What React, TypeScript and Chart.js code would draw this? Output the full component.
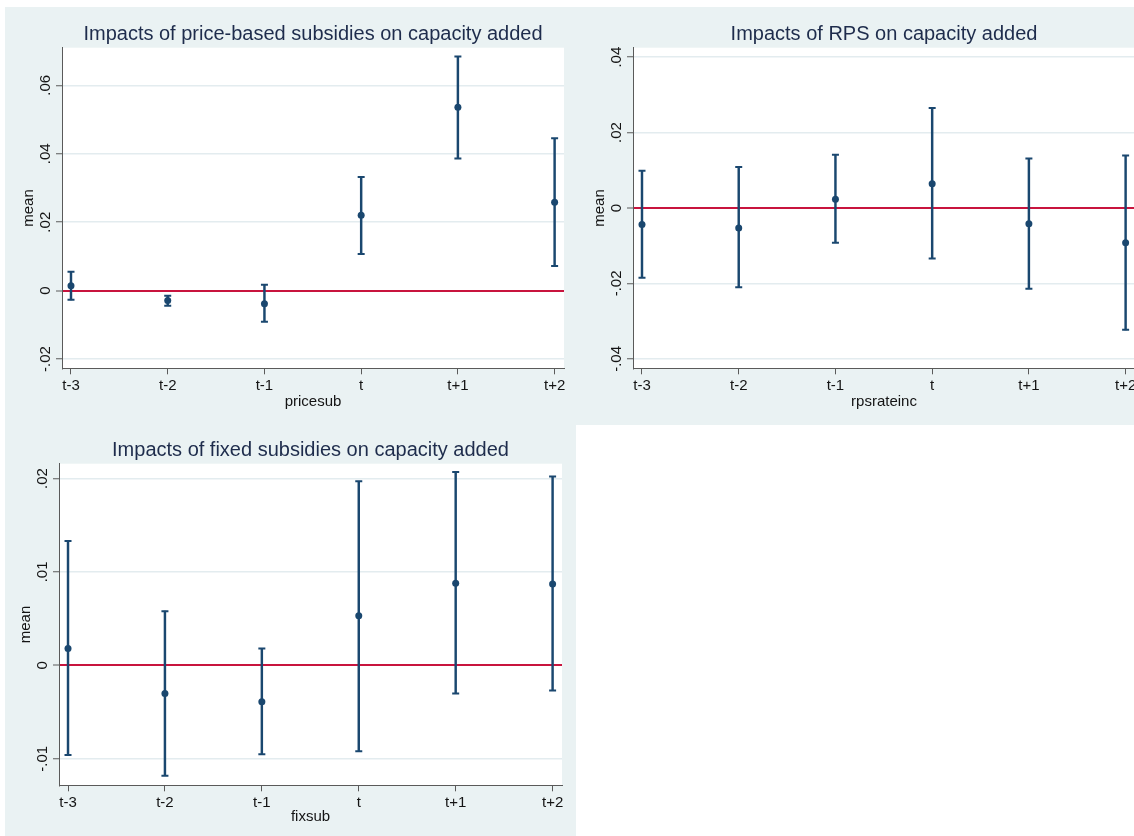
import React, { useEffect, useRef } from 'react';
import { Chart, registerables } from 'chart.js';

Chart.register(...registerables);

// Event-time categories shared by all three panels
const categories = ['t-3', 't-2', 't-1', 't', 't+1', 't+2'];

// Price-based subsidies: point estimates and confidence bounds
const priceMean = [0.0014, -0.0029, -0.0038, 0.022, 0.0536, 0.0258];
const priceLow = [-0.0027, -0.0044, -0.0091, 0.0107, 0.0386, 0.0072];
const priceHigh = [0.0055, -0.0015, 0.0017, 0.0332, 0.0684, 0.0445];

// RPS rate increase
const rpsMean = [-0.0044, -0.0053, 0.0023, 0.0064, -0.0042, -0.0092];
const rpsLow = [-0.0185, -0.021, -0.0092, -0.0134, -0.0214, -0.0323];
const rpsHigh = [0.0099, 0.0109, 0.0141, 0.0265, 0.0131, 0.0139];

// Fixed subsidies
const fixMean = [0.0018, -0.003, -0.0039, 0.0053, 0.0088, 0.0087];
const fixLow = [-0.0096, -0.0118, -0.0095, -0.0092, -0.003, -0.0027];
const fixHigh = [0.0133, 0.0058, 0.0018, 0.0197, 0.0207, 0.0202];

// Y-axis tick values and their labels
const priceYTicks = [-0.02, 0, 0.02, 0.04, 0.06];
const priceYLabels = ['-.02', '0', '.02', '.04', '.06'];
const rpsYTicks = [-0.04, -0.02, 0, 0.02, 0.04];
const rpsYLabels = ['-.04', '-.02', '0', '.02', '.04'];
const fixYTicks = [-0.01, 0, 0.01, 0.02];
const fixYLabels = ['-.01', '0', '.01', '.02'];

const NAVY = '#1a476f';
const ZERO_RED = '#c8143e';
const GRID = '#e3ecef';
const AXIS = '#5a5a5a';
const TEXT = '#141414';
const TITLE = '#1e2c4c';
const PANEL_BG = '#eaf2f3';
const FONT = '"Liberation Sans", Arial, Helvetica, sans-serif';

type PanelSpec = {
  title: string;
  xTitle: string;
  mean: number[];
  low: number[];
  high: number[];
  yTicks: number[];
  yLabels: string[];
  yMin: number;
  yMax: number;
  left: number;
  top: number;
  width: number;
  height: number;
  bgHeight: number;
  axisLeft: number;
  axisRight: number;
};

const plotBackground = {
  id: 'plotBackground',
  beforeDraw(chart: any) {
    const { ctx, chartArea: a } = chart;
    ctx.save();
    ctx.fillStyle = '#ffffff';
    ctx.fillRect(a.left, a.top, a.right - a.left, a.bottom - a.top);
    ctx.restore();
  },
};

// Vertical (rotated) y tick labels, placed at the scale's tick pixels
const rotatedYLabels = {
  id: 'rotatedYLabels',
  afterDraw(chart: any, _args: any, opts: any) {
    const scale = chart.scales.y;
    const { ctx } = chart;
    const x = chart.chartArea.left - 12.5;
    ctx.save();
    ctx.font = `15px ${FONT}`;
    ctx.fillStyle = TEXT;
    ctx.textAlign = 'center';
    ctx.textBaseline = 'alphabetic';
    opts.values.forEach((v: number, i: number) => {
      const y = scale.getPixelForValue(v);
      ctx.save();
      ctx.translate(x, y);
      ctx.rotate(-Math.PI / 2);
      ctx.fillText(opts.labels[i], 0, 0);
      ctx.restore();
    });
    ctx.restore();
  },
};

const isZero = (v: number) => Math.abs(v) < 1e-12;

function Panel({ spec }: { spec: PanelSpec }) {
  const ref = useRef<HTMLCanvasElement>(null);

  useEffect(() => {
    if (!ref.current) return;
    const pts = (vals: number[]) => vals.map((y, i) => ({ x: i, y }));
    const chart = new Chart(ref.current, {
      type: 'bar',
      data: {
        datasets: [
          {
            type: 'line',
            data: pts(spec.mean),
            showLine: false,
            pointStyle: 'circle',
            pointRadius: 3.5,
            pointBackgroundColor: NAVY,
            pointBorderColor: NAVY,
            pointBorderWidth: 0,
          },
          {
            type: 'line',
            data: pts(spec.high),
            showLine: false,
            pointStyle: 'line',
            pointRadius: 3.5,
            pointBorderColor: NAVY,
            pointBorderWidth: 2,
          },
          {
            type: 'line',
            data: pts(spec.low),
            showLine: false,
            pointStyle: 'line',
            pointRadius: 3.5,
            pointBorderColor: NAVY,
            pointBorderWidth: 2,
          },
          {
            type: 'bar',
            data: spec.low.map((l, i) => ({ x: i, y: [l, spec.high[i]] })),
            barThickness: 1.8,
            backgroundColor: NAVY,
            borderWidth: 0,
          },
        ] as any,
      },
      options: {
        responsive: false,
        animation: false,
        events: [],
        layout: {
          padding: { left: 0, top: 0, bottom: 0, right: spec.width - spec.axisRight },
        },
        plugins: {
          legend: { display: false },
          tooltip: { enabled: false },
          title: {
            display: true,
            text: spec.title,
            fullSize: false,
            color: TITLE,
            font: { family: FONT, size: 20, weight: 'normal' },
            padding: { top: 15, bottom: 1.7 },
          },
          rotatedYLabels: { values: spec.yTicks, labels: spec.yLabels },
        } as any,
        scales: {
          x: {
            type: 'linear',
            min: -0.093,
            max: 5.097,
            offset: false,
            afterBuildTicks: (scale: any) => {
              scale.ticks = categories.map((_, i) => ({ value: i }));
            },
            afterFit: (scale: any) => {
              scale.height = spec.height - 361.3 + (spec.height - 416);
            },
            ticks: {
              callback: (v: any) => categories[v as number] ?? '',
              color: TEXT,
              font: { family: FONT, size: 15 },
              padding: 3,
              maxRotation: 0,
              autoSkip: false,
            },
            grid: {
              offset: false,
              drawOnChartArea: false,
              drawTicks: true,
              tickLength: 6,
              tickColor: AXIS,
              tickWidth: 1,
            },
            border: { color: AXIS, width: 1 },
            title: {
              display: true,
              text: spec.xTitle,
              color: TEXT,
              font: { family: FONT, size: 15 },
              padding: { top: 0, bottom: 12.5 },
            },
          },
          y: {
            type: 'linear',
            min: spec.yMin,
            max: spec.yMax,
            afterBuildTicks: (scale: any) => {
              scale.ticks = spec.yTicks.map((v) => ({ value: v }));
            },
            afterFit: (scale: any) => {
              scale.width = spec.axisLeft;
            },
            ticks: { display: false },
            grid: {
              drawOnChartArea: true,
              drawTicks: true,
              tickLength: 6,
              tickColor: AXIS,
              tickWidth: 1,
              color: (c: any) => (c.tick && isZero(c.tick.value) ? ZERO_RED : GRID),
              lineWidth: (c: any) => (c.tick && isZero(c.tick.value) ? 2 : 1.5),
            },
            border: { color: AXIS, width: 1 },
            title: {
              display: true,
              text: 'mean',
              color: TEXT,
              font: { family: FONT, size: 15 },
              padding: { top: spec.axisLeft - 41.7, bottom: 0 },
            },
          },
        },
      } as any,
      plugins: [plotBackground, rotatedYLabels],
    });
    return () => chart.destroy();
  }, [spec]);

  return (
    <div
      style={{
        position: 'absolute',
        left: spec.left,
        top: spec.top,
        width: spec.width,
        height: spec.bgHeight,
        background: PANEL_BG,
      }}
    >
      <canvas ref={ref} width={spec.width} height={spec.height} style={{ display: 'block' }} />
    </div>
  );
}

const panels: PanelSpec[] = [
  {
    title: 'Impacts of price-based subsidies on capacity added',
    xTitle: 'pricesub',
    mean: priceMean,
    low: priceLow,
    high: priceHigh,
    yTicks: priceYTicks,
    yLabels: priceYLabels,
    yMin: -0.0227,
    yMax: 0.071,
    left: 5,
    top: 7,
    width: 571,
    height: 416,
    bgHeight: 416,
    axisLeft: 57,
    axisRight: 559,
  },
  {
    title: 'Impacts of RPS on capacity added',
    xTitle: 'rpsrateinc',
    mean: rpsMean,
    low: rpsLow,
    high: rpsHigh,
    yTicks: rpsYTicks,
    yLabels: rpsYLabels,
    yMin: -0.0425,
    yMax: 0.0425,
    left: 576,
    top: 7,
    width: 571,
    height: 416,
    bgHeight: 418,
    axisLeft: 57,
    axisRight: 559,
  },
  {
    title: 'Impacts of fixed subsidies on capacity added',
    xTitle: 'fixsub',
    mean: fixMean,
    low: fixLow,
    high: fixHigh,
    yTicks: fixYTicks,
    yLabels: fixYLabels,
    yMin: -0.01283,
    yMax: 0.02158,
    left: 5,
    top: 423,
    width: 571,
    height: 415,
    bgHeight: 416,
    axisLeft: 54,
    axisRight: 557,
  },
];

export default function App() {
  return (
    <div
      style={{
        position: 'fixed',
        left: 0,
        top: 0,
        width: 1134,
        height: 836,
        overflow: 'hidden',
        background: '#ffffff',
      }}
    >
      {panels.map((p) => (
        <Panel key={p.title} spec={p} />
      ))}
    </div>
  );
}
